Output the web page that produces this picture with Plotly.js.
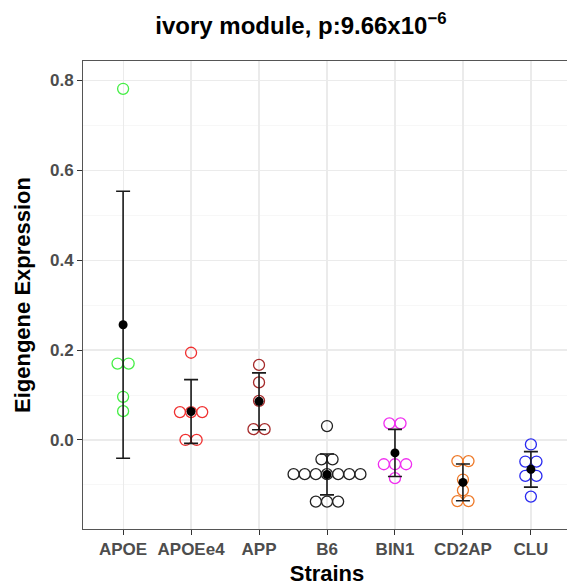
<!DOCTYPE html>
<html>
<head>
<meta charset="utf-8">
<script src="https://cdn.plot.ly/plotly-3.0.1.min.js"></script>
<style>
html,body{margin:0;padding:0;overflow:hidden;background:#fff;}
#chart{width:571px;height:586px;}
</style>
</head>
<body>
<div id="chart"></div>
<script>
// ---- data ----
const strains = ['APOE', 'APOEe4', 'APP', 'B6', 'BIN1', 'CD2AP', 'CLU'];
const APOE   = [0.781, 0.170, 0.170, 0.096, 0.064];
const APOEe4 = [0.194, 0.062, 0.062, 0.062, 0.0, 0.0];
const APP    = [0.167, 0.128, 0.087, 0.024, 0.024];
const B6     = [0.031, -0.043, -0.043, -0.076, -0.076, -0.076, -0.076, -0.076, -0.076, -0.076, -0.137, -0.137, -0.137];
const BIN1   = [0.037, 0.037, -0.054, -0.054, -0.054, -0.085];
const CD2AP  = [-0.047, -0.047, -0.088, -0.112, -0.136, -0.136];
const CLU    = [-0.010, -0.048, -0.048, -0.080, -0.080, -0.126];
const yTicks = [0.0, 0.2, 0.4, 0.6, 0.8];

// ---- styles ----
const groups = [APOE, APOEe4, APP, B6, BIN1, CD2AP, CLU];
const colors = ['#45EE45', '#F03030', '#A52A2A', '#222222', '#F02EF0', '#EE7A2A', '#2A2AF0'];
const dotStep = 0.164;   // horizontal stacking step of the dot plot (one dot width, in category units)

function mean(a){ return a.reduce((s,v)=>s+v,0)/a.length; }
function sd(a){ const m = mean(a); return Math.sqrt(a.reduce((s,v)=>s+(v-m)*(v-m),0)/(a.length-1)); }

const traces = [];
groups.forEach((vals, gi) => {
  // centre-stack equal values horizontally (dot plot, stackdir = center)
  const counts = {};
  vals.forEach(v => { counts[v] = (counts[v]||0) + 1; });
  const seen = {};
  const xs = [], ys = [];
  vals.forEach(v => {
    const n = counts[v];
    const i = seen[v] = (seen[v] === undefined ? 0 : seen[v] + 1);
    xs.push(gi + (i - (n-1)/2) * dotStep);
    ys.push(v);
  });
  traces.push({
    type: 'scatter', mode: 'markers', x: xs, y: ys, hoverinfo: 'y',
    marker: {symbol: 'circle-open', size: 11, color: colors[gi], line: {width: 1.3, color: colors[gi]}},
    showlegend: false
  });
});

traces.push({
  type: 'scatter', mode: 'markers',
  x: strains.map((s,i)=>i),
  y: groups.map(mean),
  error_y: {type: 'data', array: groups.map(sd), visible: true, color: '#1a1a1a', thickness: 1.6, width: 7},
  marker: {symbol: 'circle', size: 9, color: '#000'},
  showlegend: false
});

const font = 'Liberation Sans, Arial, sans-serif';
const layout = {
  width: 571, height: 586,
  margin: {l: 83.3, r: 0, t: 60.7, b: 57},
  paper_bgcolor: '#fff', plot_bgcolor: '#fff',
  font: {family: font},
  title: {
    text: 'ivory module, p:9.66x10<sup>−6</sup>',
    font: {family: font, size: 24, color: '#000', weight: 'bold'},
    xref: 'container', x: 0.527, xanchor: 'center',
    yref: 'container', y: 0.957, yanchor: 'middle'
  },
  xaxis: {
    range: [-0.59, 6.59],
    tickvals: strains.map((s,i)=>i), ticktext: strains,
    tickfont: {family: font, size: 17, color: '#4D4D4D', weight: 'bold'},
    ticks: 'outside', ticklen: 5, tickcolor: '#333', tickwidth: 1,
    showgrid: true, gridcolor: '#EBEBEB', gridwidth: 1.2,
    zeroline: false,
    showline: true, linecolor: '#555', linewidth: 1, mirror: true,
    title: {text: 'Strains', font: {family: font, size: 22, color: '#000', weight: 'bold'}, standoff: 8}
  },
  yaxis: {
    range: [-0.198, 0.8428],
    tickvals: yTicks,
    tickformat: '.1f',
    tickfont: {family: font, size: 17, color: '#4D4D4D', weight: 'bold'},
    ticks: 'outside', ticklen: 5, tickcolor: '#333', tickwidth: 1,
    showgrid: true, gridcolor: '#EBEBEB', gridwidth: 1.2,
    minor: {dtick: 0.1, tick0: 0, showgrid: true, gridcolor: '#F3F3F3', gridwidth: 0.7, ticks: ''},
    zeroline: false,
    showline: true, linecolor: '#555', linewidth: 1, mirror: true,
    title: {text: 'Eigengene Expression', font: {family: font, size: 22, color: '#000', weight: 'bold'}, standoff: 13}
  }
};

Plotly.newPlot('chart', traces, layout, {displayModeBar: false, staticPlot: true});
</script>
</body>
</html>
